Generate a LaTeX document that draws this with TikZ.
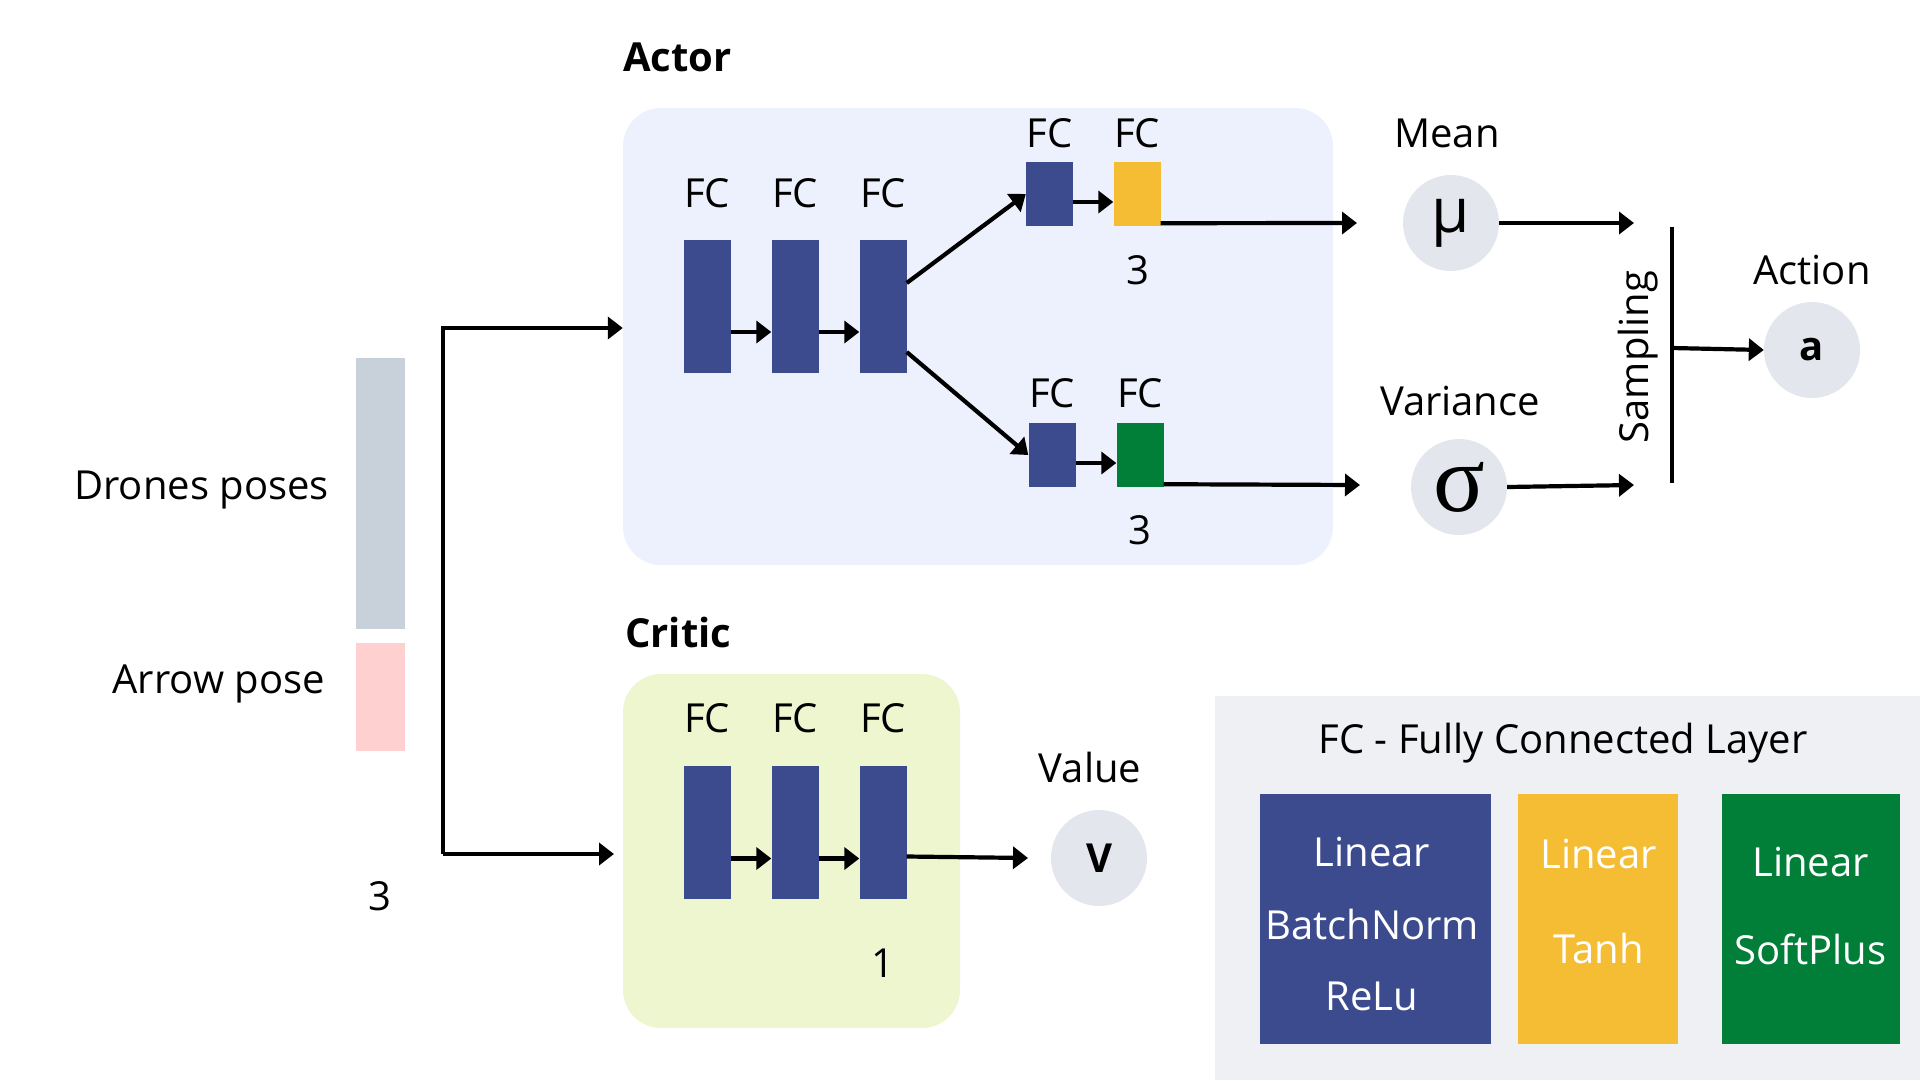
\documentclass[tikz,border=0pt]{standalone}
\usepackage{fontspec}
\setmainfont{Open Sans}
\newfontfamily\serifgreek{Liberation Serif}
\usetikzlibrary{arrows.meta}
\definecolor{fcblue}{HTML}{3C4B8E}
\definecolor{fcyellow}{HTML}{F4BD33}
\definecolor{fcgreen}{HTML}{017E38}
\definecolor{actorbg}{HTML}{EDF0FD}
\definecolor{criticbg}{HTML}{EEF6D0}
\definecolor{dronegray}{HTML}{C8D0DA}
\definecolor{arrowpink}{HTML}{FFD0D0}
\definecolor{circgray}{HTML}{E3E6EC}
\definecolor{legendbg}{HTML}{EFF0F4}

\begin{document}
\begin{tikzpicture}[x=1pt, y=-1pt,
                lbl/.style={inner sep=0pt, font=\fontsize{40}{48}\selectfont},
                title/.style={inner sep=0pt, font=\fontsize{40}{48}\selectfont\bfseries},
                fcbar/.style={rectangle, fill=fcblue, inner sep=0pt, minimum width=47pt, minimum height=133pt},
                fcsmall/.style={fcbar, minimum height=64pt},
                panel/.style={rectangle, rounded corners=38pt, inner sep=0pt},
                outnode/.style={circle, fill=circgray, minimum size=96pt, inner sep=0pt},
                arr/.style={line width=4.2pt, -{Triangle[length=15pt,width=22pt]}},
                legbox/.style={rectangle, inner sep=0pt, minimum height=250pt},
                legtxt/.style={lbl, text=white}
            ]
                \useasboundingbox (0,0) rectangle (1920,1080);

                % input vector
                \node[fill=dronegray, minimum width=49pt, minimum height=271pt, inner sep=0pt] (drones) at (380.5,493.5) {};
                \node[fill=arrowpink, minimum width=49pt, minimum height=108pt, inner sep=0pt] (arrowp) at (380.5,697) {};
                \node[lbl, anchor=east] (ldrones) at (329,490) {Drones poses};
                \node[lbl, anchor=east] (larrowp) at (325,684) {Arrow pose};
                \node[lbl] (lin) at (380,896) {3};

                % actor
                \node[title, anchor=west] (tactor) at (623,57) {Actor};
                \node[panel, fill=actorbg, minimum width=710pt, minimum height=457pt] (actor) at (978,336.5) {};
                \foreach \i/\x in {1/707,2/795,3/883} {
                    \node[fcbar] (a\i) at (\x,306) {};
                    \node[lbl] (la\i) at (\x,193) {FC};
                }
                \node[fcsmall] (b1) at (1049.5,194) {};
                \node[fcsmall, fill=fcyellow] (b2) at (1137,194) {};
                \node[fcsmall] (c1) at (1052,455) {};
                \node[fcsmall, fill=fcgreen] (c2) at (1140,455) {};
                \node[lbl] (lb1) at (1049.5,133) {FC};
                \node[lbl] (lb2) at (1137,133) {FC};
                \node[lbl] (lc1) at (1052,393) {FC};
                \node[lbl] (lc2) at (1140,393) {FC};
                \node[lbl] (nb) at (1137.5,270) {3};
                \node[lbl] (nc) at (1140,530) {3};

                % critic
                \node[title, anchor=west] (tcritic) at (625,632) {Critic};
                \node[panel, fill=criticbg, minimum width=337pt, minimum height=354pt] (critic) at (791.5,851) {};
                \foreach \i/\x in {1/707,2/795,3/883} {
                    \node[fcbar] (v\i) at (\x,832.5) {};
                    \node[lbl] (lv\i) at (\x,718) {FC};
                }
                \node[lbl] (nv) at (883,963) {1};

                % outputs
                \node[lbl] (lmean) at (1447,133) {Mean};
                \node[outnode] (mu) at (1451,223) {\fontsize{62}{62}\selectfont μ};
                \node[lbl] (lvar) at (1460,401) {Variance};
                \node[outnode] (sig) at (1459,487) {\serifgreek\fontsize{96}{96}\selectfont σ};
                \node[lbl] (laction) at (1812,270) {Action};
                \node[outnode] (act) at (1812,350) {\fontsize{40}{48}\selectfont\bfseries a};
                \node[lbl] (lvalue) at (1090,767) {Value};
                \node[outnode] (val) at (1099,858) {\fontsize{40}{48}\selectfont\bfseries V};
                \node[lbl, rotate=90] (lsamp) at (1638,357) {Sampling};

                \coordinate (splittop) at (443,328);
                \coordinate (splitbot) at (443,854);
                \coordinate (critin) at (614,854);
                \coordinate (muin) at (1357,223);
                \coordinate (sigin) at (1360,485);
                \coordinate (muout) at (1634,223);
                \coordinate (sigout) at (1634,485);
                \coordinate (samptop) at (1672,227);
                \coordinate (sampbot) at (1672,483);
                \coordinate (sampmid) at (1672,348);
                \coordinate (valin) at (1028,858);

                \draw[arr] (splitbot) -- (splittop) -- (actor.west |- splittop);
                \draw[arr] (splitbot) -- (critin);
                \draw[arr] ([yshift=-26pt]a1.east) -- ([yshift=-26pt]a2.west);
                \draw[arr] ([yshift=-26pt]a2.east) -- ([yshift=-26pt]a3.west);
                \draw[arr] ([yshift=23pt]a3.east) -- (b1.west);
                \draw[arr] ([yshift=-46pt]a3.east) -- (c1.west);
                \draw[arr] ([yshift=-8pt]b1.east) -- ([yshift=-8pt]b2.west);
                \draw[arr] ([yshift=-8pt]c1.east) -- ([yshift=-8pt]c2.west);
                \draw[arr] ([yshift=3pt]b2.south east) -- (muin);
                \draw[arr] ([yshift=3pt]c2.south east) -- (sigin);
                \draw[arr] ([yshift=-26pt]v1.east) -- ([yshift=-26pt]v2.west);
                \draw[arr] ([yshift=-26pt]v2.east) -- ([yshift=-26pt]v3.west);
                \draw[arr] ([yshift=-24pt]v3.east) -- (valin);
                \draw[arr] (mu.east) -- (muout);
                \draw[arr] (sig.east) -- (sigout);
                \draw[line width=4.2pt] (samptop) -- (sampbot);
                \draw[arr] (sampmid) -- (act.west);

                % legend
                \node[rectangle, fill=legendbg, inner sep=0pt, minimum width=705pt, minimum height=384pt] (legend) at (1567.5,888) {};
                \node[lbl] (lleg) at (1563,743) {FC - Fully Connected Layer};
                \node[legbox, fill=fcblue, minimum width=231pt] (kblue) at (1375.5,919) {};
                \node[legbox, fill=fcyellow, minimum width=160pt] (kyellow) at (1598,919) {};
                \node[legbox, fill=fcgreen, minimum width=178pt] (kgreen) at (1811,919) {};
                \node[legtxt] (kb1) at (1372,852) {Linear};
                \node[legtxt] (kb2) at (1372,924) {BatchNorm};
                \node[legtxt] (kb3) at (1372,996) {ReLu};
                \node[legtxt] (ky1) at (1598.5,854) {Linear};
                \node[legtxt] (ky2) at (1598.5,948) {Tanh};
                \node[legtxt] (kg1) at (1810.5,862) {Linear};
                \node[legtxt] (kg2) at (1810.5,949) {SoftPlus};
            \end{tikzpicture}
\end{document}
